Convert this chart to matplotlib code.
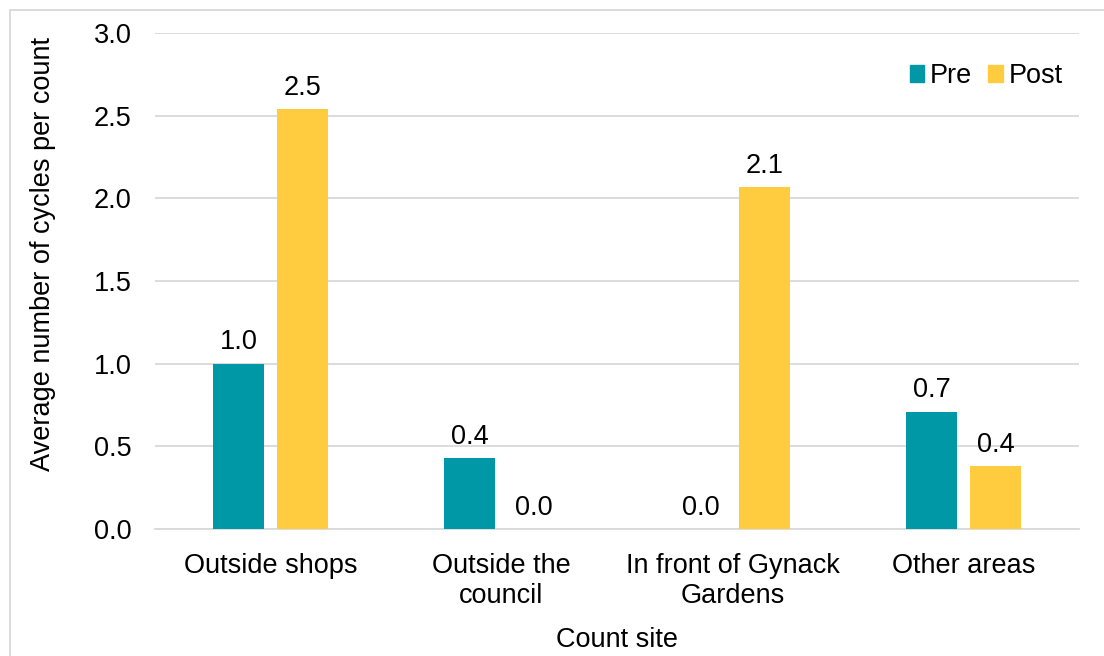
import matplotlib.pyplot as plt
import matplotlib.patches as mpatches
import numpy as np

plt.rcParams['font.family'] = ['Liberation Sans', 'DejaVu Sans']

sites = ['Outside shops', 'Outside the\ncouncil', 'In front of Gynack\nGardens', 'Other areas']
pre = [1.0, 0.43, 0.0, 0.71]
post = [2.54, 0.0, 2.07, 0.38]

pre_color = '#0098a6'
post_color = '#ffcc40'
fs = 19.5

fig = plt.figure(figsize=(11.04, 6.56), dpi=100)
ax = fig.add_axes([0.1404, 0.1936, 0.8370, 0.7560])

x = np.arange(len(sites))
w = 0.22
off = 0.139
ax.bar(x - off, pre, w, color=pre_color, zorder=3)
ax.bar(x + off, post, w, color=post_color, zorder=3)

for xi, v in zip(x - off, pre):
    ax.text(xi, v + 0.05, f'{v:.1f}', ha='center', va='bottom', fontsize=fs, color='#000000')
for xi, v in zip(x + off, post):
    ax.text(xi, v + 0.05, f'{v:.1f}', ha='center', va='bottom', fontsize=fs, color='#000000')

ax.set_xlim(-0.5, len(sites) - 0.5)
ax.set_ylim(0, 3.0)
ax.set_yticks(np.arange(0, 3.01, 0.5))
ax.set_yticklabels([f'{t:.1f}' for t in np.arange(0, 3.01, 0.5)], fontsize=fs)
ax.set_xticks(x)
ax.set_xticklabels(sites, fontsize=fs, linespacing=1.2)
ax.tick_params(axis='x', length=0, pad=17)
ax.tick_params(axis='y', length=0, pad=17)

ax.yaxis.grid(True, color='#d9d9d9', linewidth=1.3, zorder=0)
ax.set_axisbelow(True)
for s in ['top', 'right', 'left']:
    ax.spines[s].set_visible(False)
ax.spines['bottom'].set_color('#d9d9d9')
ax.spines['bottom'].set_linewidth(1.3)

ax.set_ylabel('Average number of cycles per count', fontsize=fs)
ax.yaxis.set_label_coords(-0.107, 0.554)
ax.set_xlabel('Count site', fontsize=fs, labelpad=13)

handles = [mpatches.Patch(color=pre_color, label='Pre'),
           mpatches.Patch(color=post_color, label='Post')]
ax.legend(handles=handles, loc='upper right', bbox_to_anchor=(1.0, 0.972), ncol=2,
          frameon=False, fontsize=fs, handlelength=0.55, handleheight=0.55,
          handletextpad=0.2, columnspacing=0.6, borderaxespad=0.2)

# light frame around the chart
fig.patches.append(mpatches.Rectangle((0.009, -0.01), 1.1, 0.995, transform=fig.transFigure,
                                      fill=False, edgecolor='#d9d9d9', linewidth=1.3))

fig.savefig('out.png', dpi=100)
